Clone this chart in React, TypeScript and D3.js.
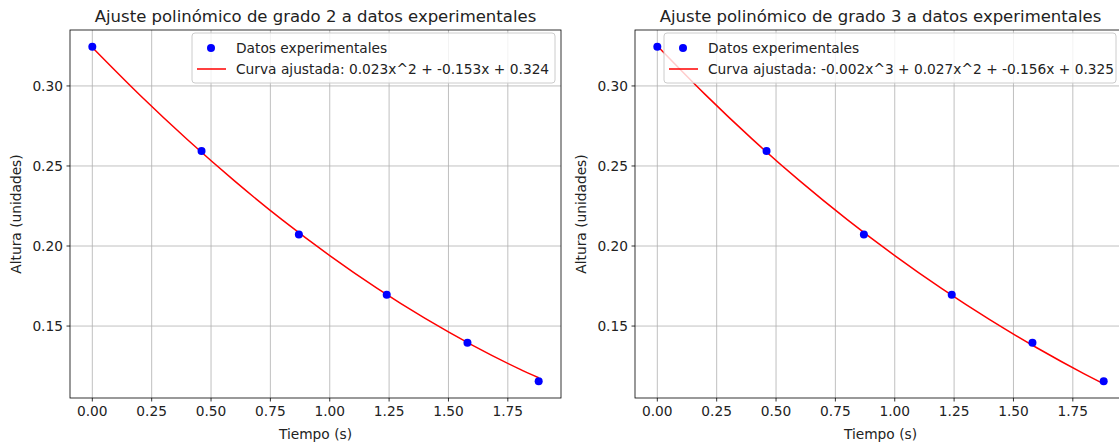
import React from "react";
import { scaleLinear, line, curveMonotoneX, extent } from "d3";

const tiempo = [0, 0.46, 0.87, 1.24, 1.58, 1.88];
const altura = [0.3245, 0.2593, 0.2072, 0.1696, 0.1395, 0.1155];

// curvas ajustadas, muestreadas
const curvaX = [0, 0.2, 0.4, 0.6, 0.8, 1.0, 1.2, 1.4, 1.6, 1.8, 1.88];
const curvaGrado2 = [0.324, 0.2943, 0.2665, 0.2405, 0.2163, 0.194, 0.1735, 0.1549, 0.1381, 0.1231, 0.1177];
const curvaGrado3 = [0.325, 0.2949, 0.2668, 0.2407, 0.2165, 0.194, 0.1732, 0.154, 0.1363, 0.12, 0.1139];

const xTicks = [0, 0.25, 0.5, 0.75, 1.0, 1.25, 1.5, 1.75];
const yTicks = [0.15, 0.2, 0.25, 0.3];

const titulos = [
  "Ajuste polinómico de grado 2 a datos experimentales",
  "Ajuste polinómico de grado 3 a datos experimentales",
];
const etiquetasCurva = [
  "Curva ajustada: 0.023x^2 + -0.153x + 0.324",
  "Curva ajustada: -0.002x^3 + 0.027x^2 + -0.156x + 0.325",
];

const FONT = "DejaVu Sans, sans-serif";
const FS = 13.75;
const W = 1119;
const H = 444;
const TOP = 30;
const BOTTOM = 398;
const PLOT_W = 491;

function pad([a, b]: number[]) {
  const m = (b - a) * 0.05;
  return [a - m, b + m];
}

function Panel({ x0, title, label, curve, legendX, legendW }: any) {
  const xScale = scaleLinear()
    .domain(pad(extent(tiempo) as number[]))
    .range([x0, x0 + PLOT_W]);
  const yScale = scaleLinear()
    .domain(pad(extent(altura) as number[]))
    .range([BOTTOM, TOP]);

  const path = line<number>()
    .x((d, i) => xScale(curvaX[i]))
    .y((d) => yScale(d))
    .curve(curveMonotoneX)(curve);

  const clipId = "clip" + x0;
  const cx = (x0 + x0 + PLOT_W) / 2;

  return (
    <g>
      <defs>
        <clipPath id={clipId}>
          <rect x={x0} y={TOP} width={PLOT_W} height={BOTTOM - TOP} />
        </clipPath>
      </defs>
      {/* grid */}
      {xTicks.map((t) => (
        <line key={"gx" + t} x1={xScale(t)} x2={xScale(t)} y1={TOP} y2={BOTTOM} stroke="#b0b0b0" strokeWidth={0.8} />
      ))}
      {yTicks.map((t) => (
        <line key={"gy" + t} x1={x0} x2={x0 + PLOT_W} y1={yScale(t)} y2={yScale(t)} stroke="#b0b0b0" strokeWidth={0.8} />
      ))}

      <g clipPath={`url(#${clipId})`}>
        <path d={path || ""} fill="none" stroke="red" strokeWidth={1.5} />
        {tiempo.map((t, i) => (
          <circle key={i} cx={xScale(t)} cy={yScale(altura[i])} r={4} fill="blue" />
        ))}
      </g>

      {/* frame */}
      <rect x={x0} y={TOP} width={PLOT_W} height={BOTTOM - TOP} fill="none" stroke="black" strokeWidth={0.8} />

      {/* ticks */}
      {xTicks.map((t) => (
        <g key={"tx" + t}>
          <line x1={xScale(t)} x2={xScale(t)} y1={BOTTOM} y2={BOTTOM + 3.5} stroke="black" strokeWidth={0.8} />
          <text x={xScale(t)} y={BOTTOM + 17.5} fontSize={FS} textAnchor="middle" fontFamily={FONT} fill="#222">
            {t.toFixed(2)}
          </text>
        </g>
      ))}
      {yTicks.map((t) => (
        <g key={"ty" + t}>
          <line x1={x0 - 3.5} x2={x0} y1={yScale(t)} y2={yScale(t)} stroke="black" strokeWidth={0.8} />
          <text x={x0 - 7} y={yScale(t) + 5} fontSize={FS} textAnchor="end" fontFamily={FONT} fill="#222">
            {t.toFixed(2)}
          </text>
        </g>
      ))}

      {/* labels */}
      <text x={cx} y={22} fontSize={16.5} textAnchor="middle" fontFamily={FONT} fill="#222">
        {title}
      </text>
      <text x={cx} y={439} fontSize={FS} textAnchor="middle" fontFamily={FONT} fill="#222">
        Tiempo (s)
      </text>
      <text
        transform={`translate(${x0 - 49},${(TOP + BOTTOM) / 2}) rotate(-90)`}
        fontSize={FS}
        textAnchor="middle"
        fontFamily={FONT}
        fill="#222"
      >
        Altura (unidades)
      </text>

      {/* legend */}
      <g>
        <rect x={legendX} y={33} width={legendW} height={50} rx={3} fill="white" fillOpacity={0.8} stroke="#cccccc" strokeWidth={1} />
        <circle cx={legendX + 19} cy={48} r={4} fill="blue" />
        <line x1={legendX + 5} x2={legendX + 34} y1={69} y2={69} stroke="red" strokeWidth={1.5} />
        <text x={legendX + 44} y={53} fontSize={FS} fontFamily={FONT} fill="#222">
          Datos experimentales
        </text>
        <text x={legendX + 44} y={74} fontSize={FS} fontFamily={FONT} fill="#222">
          {label}
        </text>
      </g>
    </g>
  );
}

export default function App() {
  return (
    <div style={{ position: "fixed", left: 0, top: 0 }}>
      <svg width={W} height={H} style={{ display: "block", background: "white" }}>
        <Panel x0={70} title={titulos[0]} label={etiquetasCurva[0]} curve={curvaGrado2} legendX={192} legendW={363} />
        <Panel x0={635} title={titulos[1]} label={etiquetasCurva[1]} curve={curvaGrado3} legendX={664} legendW={452} />
      </svg>
    </div>
  );
}
